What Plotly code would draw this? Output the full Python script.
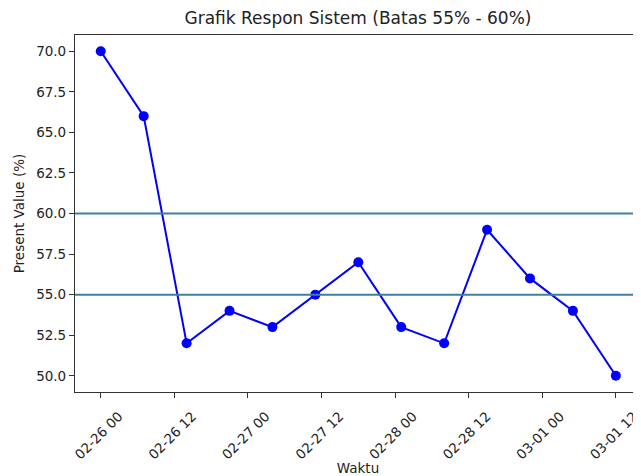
import plotly.graph_objects as go
import pandas as pd

waktu = pd.date_range("2025-02-26 00:00", periods=13, freq="7h")
present_value = [70, 66, 52, 54, 53, 55, 57, 53, 52, 59, 56, 54, 50]
batas = [55, 60]
tick_vals = pd.date_range("2025-02-26 00:00", "2025-03-01 12:00", freq="12h")
tick_text = [t.strftime("%m-%d %H") for t in tick_vals]

font = "DejaVu Sans"
fig = go.Figure()
fig.add_trace(go.Scatter(
    x=waktu, y=present_value, mode="lines+markers",
    line=dict(color="#0000ff", width=2),
    marker=dict(color="#0000ff", size=10),
    showlegend=False,
))
for b in batas:
    fig.add_hline(y=b, line=dict(color="#3f7fa3", width=2))

x0 = waktu[0] - pd.Timedelta(hours=4.2)
x1 = waktu[-1] + pd.Timedelta(hours=4.1)

fig.update_layout(
    width=633, height=468,
    margin=dict(l=67, r=0, t=27, b=84),
    paper_bgcolor="white", plot_bgcolor="white",
    font=dict(family=font, color="#222", size=13.5),
    title=dict(text="Grafik Respon Sistem (Batas 55% - 60%)", x=0.5, xref="paper",
               xanchor="center", y=1 - 10/468, yanchor="middle",
               font=dict(size=17, family=font, color="#222")),
    xaxis=dict(range=[x0, x1], tickvals=tick_vals, ticktext=tick_text, tickangle=-45,
               showgrid=False, zeroline=False, showline=True, linecolor="#333",
               linewidth=1.2, mirror=True, ticks="outside", ticklen=5, tickcolor="#333",
               ticklabelshift=18, ticklabelstandoff=5,
               title=dict(text="Waktu", font=dict(size=13.5), standoff=3),
               tickfont=dict(size=13.5)),
    yaxis=dict(range=[49, 71], tickvals=[50, 52.5, 55, 57.5, 60, 62.5, 65, 67.5, 70],
               ticktext=["50.0", "52.5", "55.0", "57.5", "60.0", "62.5", "65.0", "67.5", "70.0"],
               showgrid=False, zeroline=False, showline=True, linecolor="#333",
               linewidth=1.2, ticks="outside", ticklen=5, tickcolor="#333",
               title=dict(text="Present Value (%)", font=dict(size=13.5), standoff=8),
               tickfont=dict(size=13.5)),
)
fig.write_html("out.html")
